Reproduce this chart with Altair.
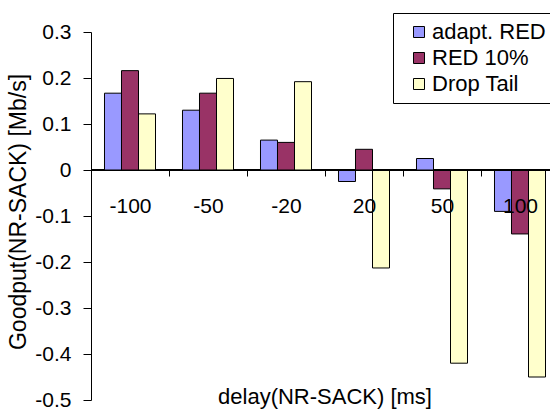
import altair as alt
import pandas as pd

delays = ["-100", "-50", "-20", "20", "50", "100"]
series = ["adapt. RED", "RED 10%", "Drop Tail"]
adapt_red = [0.167, 0.130, 0.065, -0.025, 0.025, -0.090]
red_10 = [0.216, 0.167, 0.060, 0.045, -0.041, -0.139]
drop_tail = [0.122, 0.199, 0.192, -0.213, -0.420, -0.450]
colors = ["#9999FF", "#993366", "#FFFFCC"]
y_ticks = [-0.5, -0.4, -0.3, -0.2, -0.1, 0.0, 0.1, 0.2, 0.3]

rows = []
for name, vals in zip(series, [adapt_red, red_10, drop_tail]):
    for d, v in zip(delays, vals):
        rows.append({"delay": d, "series": name, "goodput": v})
df = pd.DataFrame(rows)

FONT = "Liberation Sans"
W = 459
H = 368
XR = 468

base = alt.Chart(df)

zero_line = base.mark_rule(color="black", strokeWidth=1).encode(
    y=alt.datum(0),
    x=alt.value(0),
    x2=alt.value(XR),
)

bars = base.mark_bar(stroke="black", strokeWidth=1).encode(
    x=alt.X(
        "delay:N",
        sort=delays,
        scale=alt.Scale(range=[0, XR], paddingInner=0, paddingOuter=0),
        axis=alt.Axis(
            title="delay(NR-SACK) [ms]",
            offset=-230,
            zindex=1,
            labelAngle=0,
            domain=True,
            ticks=True,
            domainColor="black",
            tickColor="black",
            tickBand="extent",
            tickSize=6,
            labelPadding=19,
            labelFontSize=21,
            titleFontSize=22,
            titleX=233.5,
            titleY=226,
            titleBaseline="middle",
            titleAlign="center",
        ),
    ),
    xOffset=alt.XOffset("series:N", sort=series,
                        scale=alt.Scale(paddingInner=0, paddingOuter=0.794)),
    y=alt.Y(
        "goodput:Q",
        scale=alt.Scale(domain=[-0.5, 0.3], nice=False, zero=False),
        axis=alt.Axis(
            title="Goodput(NR-SACK) [Mb/s]",
            values=y_ticks,
            tickSize=8,
            labelPadding=12,
            labelFontSize=21,
            titleFontSize=23,
            titleX=-73,
            titleY=179.5,
            titleBaseline="middle",
            titleAlign="center",
            labelExpr="abs(datum.value) < 1e-9 ? '0' : (datum.value < 0 ? '-' : '') + format(abs(datum.value), '.1f')",
        ),
    ),
    fill=alt.Fill(
        "series:N",
        sort=series,
        scale=alt.Scale(domain=series, range=colors),
        legend=alt.Legend(
            title=None,
            orient="none",
            legendX=302,
            legendY=-19,
            padding=8,
            strokeColor="black",
            fillColor="white",
            cornerRadius=0,
            symbolType="square",
            symbolSize=121,
            symbolStrokeColor="black",
            symbolStrokeWidth=1,
            symbolOffset=7,
            labelOffset=2,
            labelFontSize=22,
            labelFont=FONT,
            labelColor="black",
            rowPadding=4,
        ),
    ),
)

chart = alt.layer(zero_line, bars).properties(
    width=W,
    height=H,
    title=alt.TitleParams(
        "(c)", fontSize=22, font=FONT, fontWeight="normal", anchor="middle",
        dx=-40, offset=32, baseline="alphabetic", color="black", frame="group",
    ),
    autosize=alt.AutoSizeParams(type="none"),
    padding={"left": 91, "top": 32, "right": 0, "bottom": 9},
).configure_view(
    stroke=None
).configure_axis(
    labelFont=FONT,
    titleFont=FONT,
    labelColor="black",
    titleColor="black",
    domainColor="black",
    tickColor="black",
    titleFontWeight="normal",
    grid=False,
)

chart.save("out.html", embed_options={"renderer": "svg", "actions": False})
